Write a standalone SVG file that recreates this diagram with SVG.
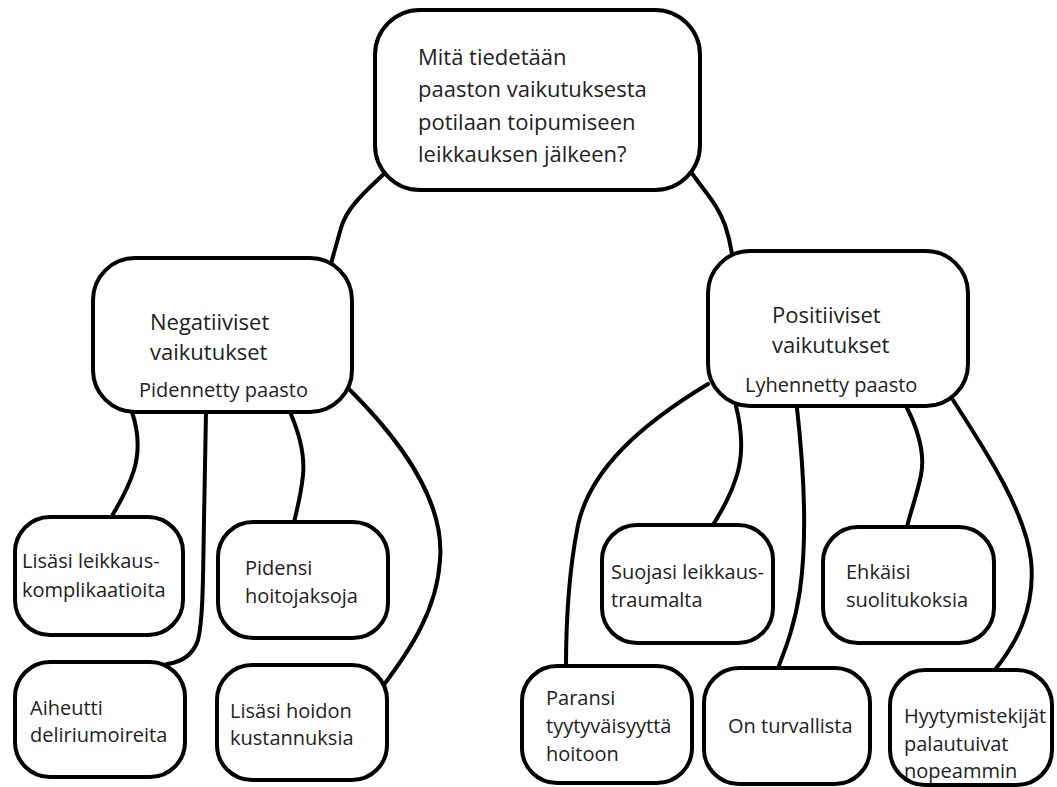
<svg xmlns="http://www.w3.org/2000/svg" width="1057" height="787" viewBox="0 0 1057 787">
<style>
.box{fill:#fff;stroke:#000;stroke-width:4}
.con{fill:none;stroke:#000;stroke-width:4;stroke-linecap:round}
text{font-family:"Open Sans","Noto Sans","DejaVu Sans",sans-serif;fill:#222}
.t22{font-size:22px}
.t20{font-size:20px}
</style>
<rect width="1057" height="787" fill="#fff"/>
<g id="connectors">
<path class="con" d="M385,173 C360,196 346,210 341,228 C336,246 333,256 331,264"/>
<path class="con" d="M691,172 C705,192 718,205 725,225 C730,240 731,248 732,254"/>
<path class="con" d="M132,412 C138,430 140,450 134,470 C128,490 118,505 111,518"/>
<path class="con" d="M206,412 L204,520 C203,580 203,620 198,640 C193,655 182,662 167,664"/>
<path class="con" d="M290,412 C300,435 305,455 303,475 C301,495 297,510 294,522"/>
<path class="con" d="M350,390 C400,440 445,500 440,560 C437,610 410,650 383,686"/>
<path class="con" d="M708,384 C640,425 590,470 578,525 C568,575 566,630 566,667"/>
<path class="con" d="M736,406 C742,430 743,455 737,475 C731,495 722,510 713,525"/>
<path class="con" d="M797,408 C805,480 807,540 800,590 C795,625 785,650 778,668"/>
<path class="con" d="M907,408 C918,430 925,455 921,475 C917,495 911,510 907,527"/>
<path class="con" d="M953,400 C985,450 1025,510 1031,560 C1036,610 1015,645 994,671"/>
</g>
<g id="root">
<rect class="box" x="375" y="10" width="325" height="180" rx="45"/>
<text class="t22" x="418" y="65">Mitä tiedetään</text>
<text class="t22" x="418" y="97">paaston vaikutuksesta</text>
<text class="t22" x="418" y="130">potilaan toipumiseen</text>
<text class="t22" x="418" y="162">leikkauksen jälkeen?</text>
</g>
<g id="negative">
<rect class="box" x="93" y="258" width="259" height="154" rx="42"/>
<text class="t22" x="150" y="330">Negatiiviset</text>
<text class="t22" x="150" y="360">vaikutukset</text>
<text class="t20" x="139" y="397">Pidennetty paasto</text>
</g>
<g id="positive">
<rect class="box" x="708" y="251" width="260" height="155" rx="42"/>
<text class="t22" x="772" y="323">Positiiviset</text>
<text class="t22" x="772" y="353">vaikutukset</text>
<text class="t20" x="745" y="392">Lyhennetty paasto</text>
</g>
<g id="n1">
<rect class="box" x="15" y="517" width="168" height="118" rx="35"/>
<text class="t20" x="22" y="568">Lisäsi leikkaus-</text>
<text class="t20" x="22" y="597">komplikaatioita</text>
</g>
<g id="n2">
<rect class="box" x="218" y="522" width="170" height="116" rx="35"/>
<text class="t20" x="245" y="575">Pidensi</text>
<text class="t20" x="245" y="603">hoitojaksoja</text>
</g>
<g id="n3">
<rect class="box" x="15" y="662" width="170" height="115" rx="35"/>
<text class="t20" x="30" y="715">Aiheutti</text>
<text class="t20" x="30" y="742">deliriumoireita</text>
</g>
<g id="n4">
<rect class="box" x="217" y="665" width="170" height="115" rx="35"/>
<text class="t20" x="230" y="718">Lisäsi hoidon</text>
<text class="t20" x="230" y="745">kustannuksia</text>
</g>
<g id="p1">
<rect class="box" x="602" y="525" width="171" height="118" rx="35"/>
<text class="t20" x="611" y="579">Suojasi leikkaus-</text>
<text class="t20" x="611" y="607">traumalta</text>
</g>
<g id="p2">
<rect class="box" x="823" y="527" width="171" height="116" rx="35"/>
<text class="t20" x="846" y="579">Ehkäisi</text>
<text class="t20" x="846" y="607">suolitukoksia</text>
</g>
<g id="p3">
<rect class="box" x="522" y="666" width="170" height="117" rx="35"/>
<text class="t20" x="546" y="705">Paransi</text>
<text class="t20" x="546" y="733">tyytyväisyyttä</text>
<text class="t20" x="546" y="761">hoitoon</text>
</g>
<g id="p4">
<rect class="box" x="704" y="668" width="166" height="116" rx="35"/>
<text class="t20" x="728" y="733">On turvallista</text>
</g>
<g id="p5">
<rect class="box" x="890" y="670" width="162" height="115" rx="35"/>
<text class="t20" x="904" y="723">Hyytymistekijät</text>
<text class="t20" x="904" y="751">palautuivat</text>
<text class="t20" x="904" y="778">nopeammin</text>
</g>
</svg>
